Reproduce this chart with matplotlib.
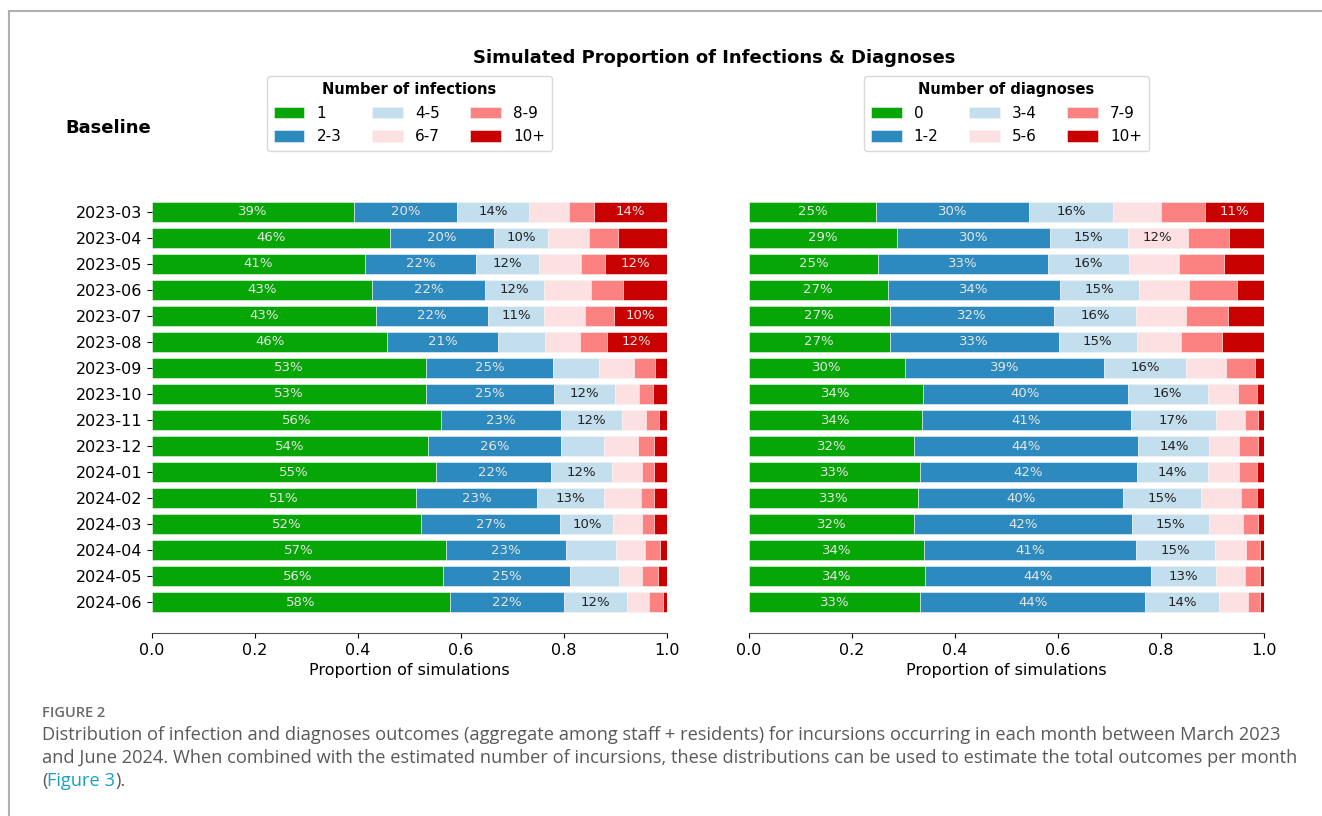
import numpy as np
import matplotlib.pyplot as plt
from matplotlib.lines import Line2D

months = ['2023-03', '2023-04', '2023-05', '2023-06', '2023-07', '2023-08',
          '2023-09', '2023-10', '2023-11', '2023-12', '2024-01', '2024-02',
          '2024-03', '2024-04', '2024-05', '2024-06']

inf_labels = ['1', '2-3', '4-5', '6-7', '8-9', '10+']
inf_1   = [0.392, 0.462, 0.414, 0.428, 0.434, 0.457, 0.532, 0.532, 0.561, 0.536, 0.551, 0.513, 0.523, 0.571, 0.565, 0.579]
inf_23  = [0.201, 0.203, 0.216, 0.219, 0.218, 0.214, 0.247, 0.249, 0.234, 0.258, 0.223, 0.234, 0.270, 0.233, 0.247, 0.221]
inf_45  = [0.140, 0.103, 0.121, 0.115, 0.110, 0.093, 0.089, 0.118, 0.118, 0.084, 0.119, 0.131, 0.103, 0.097, 0.095, 0.122]
inf_67  = [0.077, 0.080, 0.082, 0.090, 0.078, 0.067, 0.068, 0.046, 0.047, 0.065, 0.058, 0.071, 0.055, 0.056, 0.044, 0.043]
inf_89  = [0.049, 0.056, 0.046, 0.062, 0.058, 0.052, 0.041, 0.027, 0.024, 0.032, 0.023, 0.025, 0.024, 0.030, 0.031, 0.027]
inf_10p = [0.141, 0.096, 0.121, 0.086, 0.102, 0.117, 0.023, 0.028, 0.016, 0.025, 0.026, 0.026, 0.025, 0.013, 0.018, 0.008]

diag_labels = ['0', '1-2', '3-4', '5-6', '7-9', '10+']
diag_0   = [0.247, 0.288, 0.250, 0.269, 0.273, 0.273, 0.302, 0.337, 0.335, 0.321, 0.332, 0.328, 0.321, 0.340, 0.342, 0.333]
diag_12  = [0.297, 0.296, 0.331, 0.335, 0.320, 0.328, 0.388, 0.398, 0.406, 0.435, 0.421, 0.399, 0.423, 0.411, 0.438, 0.436]
diag_34  = [0.163, 0.151, 0.157, 0.154, 0.158, 0.152, 0.159, 0.156, 0.166, 0.138, 0.138, 0.151, 0.150, 0.153, 0.127, 0.143]
diag_56  = [0.093, 0.117, 0.096, 0.097, 0.098, 0.086, 0.077, 0.058, 0.057, 0.058, 0.061, 0.077, 0.066, 0.062, 0.057, 0.056]
diag_79  = [0.086, 0.081, 0.089, 0.092, 0.082, 0.079, 0.057, 0.037, 0.024, 0.036, 0.034, 0.031, 0.029, 0.027, 0.028, 0.025]
diag_10p = [0.114, 0.067, 0.077, 0.053, 0.069, 0.082, 0.017, 0.014, 0.012, 0.012, 0.014, 0.014, 0.011, 0.007, 0.008, 0.007]

colors = ['#05a605', '#2c8abf', '#c3dfee', '#fde0e1', '#fc8282', '#c80000']
text_colors = ['#e6e6e6', '#e6e6e6', '#222222', '#222222', '#222222', '#e6e6e6']

plt.rcParams['font.family'] = 'DejaVu Sans'
fig = plt.figure(figsize=(13.22, 8.16), dpi=100)

# page frame of the screenshot
fig.add_artist(Line2D([9/1322, 1], [1-11/816, 1-11/816], color='#b0b0b0', lw=1.5))
fig.add_artist(Line2D([9/1322, 9/1322], [0, 1-11/816], color='#b0b0b0', lw=1.5))

ax1 = fig.add_axes([152/1322, 1-633/816, 515/1322, 452/816])
ax2 = fig.add_axes([749/1322, 1-633/816, 515/1322, 452/816])


def draw(ax, series, labels, title, show_y):
    y = np.arange(len(months))
    left = np.zeros(len(months))
    for i, vals in enumerate(series):
        vals = np.array(vals)
        bars = ax.barh(y, vals, left=left, height=0.78, color=colors[i],
                       edgecolor='#f4f4f4', linewidth=0.4, label=labels[i])
        lbl = ['%d%%' % round(v * 100) if v >= 0.1 else '' for v in vals]
        ax.bar_label(bars, labels=lbl, label_type='center', color=text_colors[i], fontsize=9.5)
        left += vals
    ax.set_yticks(y)
    ax.set_yticklabels(months if show_y else [''] * len(months), fontsize=11.5)
    ax.invert_yaxis()
    ax.set_xlim(0, 1)
    ax.set_xticks([0, 0.2, 0.4, 0.6, 0.8, 1.0])
    ax.set_xticklabels(['0.0', '0.2', '0.4', '0.6', '0.8', '1.0'], fontsize=11.5)
    ax.set_xlabel('Proportion of simulations', fontsize=11.5, labelpad=4)
    for s in ['top', 'right', 'left']:
        ax.spines[s].set_visible(False)
    ax.spines['bottom'].set_color('#555555')
    if not show_y:
        ax.tick_params(axis='y', length=0)
    leg = ax.legend(ncol=3, loc='lower center', bbox_to_anchor=(0.5, 1.066), borderaxespad=0,
                    title=title, fontsize=11, title_fontproperties={'weight': 'bold', 'size': 10.5},
                    handlelength=2.0, handleheight=0.8, columnspacing=2.0, handletextpad=0.8,
                    borderpad=0.45, labelspacing=0.55, frameon=True)
    leg.get_frame().set_edgecolor('#d0d0d0')


draw(ax1, [inf_1, inf_23, inf_45, inf_67, inf_89, inf_10p], inf_labels, 'Number of infections', True)
draw(ax2, [diag_0, diag_12, diag_34, diag_56, diag_79, diag_10p], diag_labels, 'Number of diagnoses', False)

fig.text(714/1322, 1-58/816, 'Simulated Proportion of Infections & Diagnoses',
         ha='center', va='center', fontsize=13, fontweight='bold')
fig.text(65/1322, 1-128/816, 'Baseline', ha='left', va='center', fontsize=13, fontweight='bold')

# caption
cap_font = 'Open Sans'
cap_lines = ['Distribution of infection and diagnoses outcomes (aggregate among staff + residents) for incursions occurring in each month between March 2023',
             'and June 2024. When combined with the estimated number of incursions, these distributions can be used to estimate the total outcomes per month']
fig.canvas.draw()
r = fig.canvas.get_renderer()
widths = []
for line in cap_lines:
    probe = fig.text(0, 0, line, fontsize=12, family=cap_font)
    widths.append(probe.get_window_extent(r).width)
    probe.remove()
cap_size = 12 * (1282 - 42) / np.mean(widths)

fig.text(42/1322, 1-713/816, 'FIGURE 2', ha='left', va='center', fontsize=10.5,
         color='#6a6a6a', family=cap_font, fontweight='semibold')
for k, line in enumerate(cap_lines):
    fig.text(42/1322, 1-(735 + 23*k)/816, line, ha='left', va='center',
             fontsize=cap_size, color='#595959', family=cap_font)
t1 = fig.text(42/1322, 1-781/816, '(', ha='left', va='center', fontsize=cap_size, color='#595959', family=cap_font)
fig.canvas.draw()
bb = t1.get_window_extent(r)
t2 = fig.text(bb.x1/1322, 1-781/816, 'Figure 3', ha='left', va='center', fontsize=cap_size, color='#1b9fc4', family=cap_font)
bb2 = t2.get_window_extent(r)
fig.text(bb2.x1/1322, 1-781/816, ').', ha='left', va='center', fontsize=cap_size, color='#595959', family=cap_font)

fig.savefig('out.png', dpi=100, facecolor='white')
